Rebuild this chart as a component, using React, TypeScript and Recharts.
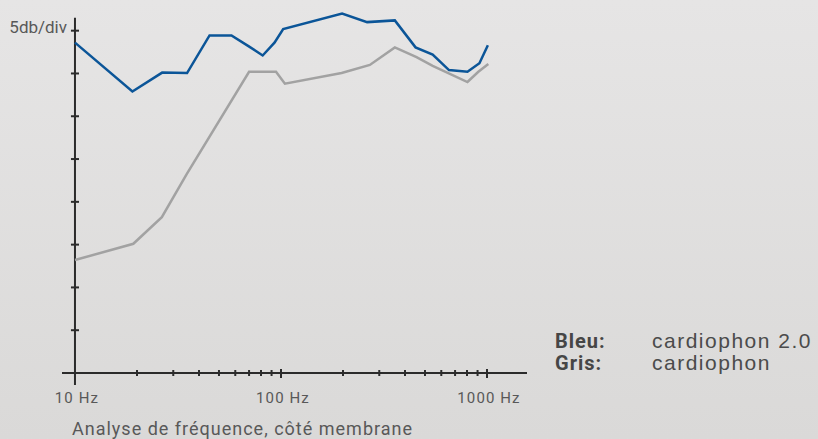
import { LineChart, Line, XAxis, YAxis, ReferenceLine } from 'recharts';

// fréquences (Hz) et niveaux (dB, 5 dB par division)
const blueFreq = [10, 19, 26.5, 35, 45, 57.5, 69.5, 81.5, 93, 102.5, 198, 262, 357, 450, 545, 654, 804, 919, 1010];
const blueDb = [38.6, 32.9, 35.1, 35.05, 39.45, 39.45, 38.2, 37.1, 38.6, 40.2, 42.0, 41.0, 41.2, 38.05, 37.2, 35.4, 35.2, 36.2, 38.3];

const grayFreq = [10, 19.2, 26.4, 34.8, 70, 94.6, 104.5, 197, 270, 357, 455, 545, 804, 908, 1015];
const grayDb = [13.2, 15.1, 18.2, 23.2, 35.2, 35.2, 33.8, 35.05, 36.0, 38.05, 36.9, 35.9, 34.0, 35.2, 36.1];

const freqTicks = [10, 20, 30, 40, 50, 60, 70, 80, 90, 100, 200, 300, 400, 500, 600, 700, 800, 900, 1000];
const freqLabels = [10, 100, 1000];
const dbTicks = [5, 10, 15, 20, 25, 30, 35, 40];

const legendNames = ['Bleu:', 'Gris:'];
const legendValues = ['cardiophon 2.0', 'cardiophon'];

const blueData = blueFreq.map((f, i) => ({ f, db: blueDb[i] }));
const grayData = grayFreq.map((f, i) => ({ f, db: grayDb[i] }));

const AXIS = '#2b2b2b';
const TEXT = '#585858';

const FreqTick = (props: any) => {
  const { x, y, payload } = props;
  const v = payload.value;
  const major = v === 100 || v === 1000;
  return (
    <g>
      {v !== 10 && (
        <line x1={x} x2={x} y1={y - (major ? 4 : 3)} y2={y + (major ? 5 : 3)} stroke={AXIS} strokeWidth={2} />
      )}
      {freqLabels.includes(v) && (
        <text x={x + 2} y={y + 30} textAnchor="middle" fill={TEXT} fontSize={15} fontFamily="Roboto" letterSpacing={1.1}>
          {v} Hz
        </text>
      )}
    </g>
  );
};

export default function App() {
  return (
    <div
      style={{
        position: 'absolute',
        left: 0,
        top: 0,
        width: 818,
        height: 439,
        background: 'linear-gradient(#e6e5e5, #dad9d8)',
        fontFamily: 'Roboto',
      }}
    >
      <LineChart width={818} height={439} margin={{ top: 5, right: 291, bottom: 36, left: 62 }}>
        <XAxis
          type="number"
          dataKey="f"
          scale="log"
          domain={[8.65, 1564]}
          allowDataOverflow
          ticks={freqTicks}
          interval={0}
          tick={<FreqTick />}
          tickLine={false}
          tickSize={0}
          tickMargin={0}
          height={30}
          axisLine={{ stroke: AXIS, strokeWidth: 2 }}
        />
        <YAxis hide type="number" domain={[0, 43]} allowDataOverflow />
        <ReferenceLine
          segment={[{ x: 10, y: -1.4 }, { x: 10, y: 41.5 }]}
          stroke={AXIS}
          strokeWidth={2}
          ifOverflow="visible"
        />
        {dbTicks.map((v) => (
          <ReferenceLine
            key={v}
            segment={[{ x: 10 / 1.046, y: v }, { x: 10 * 1.046, y: v }]}
            stroke={AXIS}
            strokeWidth={2}
            ifOverflow="visible"
          />
        ))}
        <Line data={grayData} dataKey="db" type="linear" stroke="#a2a2a2" strokeWidth={2.5} dot={false} isAnimationActive={false} />
        <Line data={blueData} dataKey="db" type="linear" stroke="#0b5598" strokeWidth={2.5} dot={false} isAnimationActive={false} />
      </LineChart>

      <svg width={818} height={439} style={{ position: 'absolute', left: 0, top: 0, pointerEvents: 'none' }}>
        <text x={67} y={33} textAnchor="end" fill={TEXT} fontSize={17}>5db/div</text>
        <text x={72} y={435} fill={TEXT} fontSize={18} letterSpacing={1}>
          Analyse de fréquence, côté membrane
        </text>
        {legendNames.map((name, i) => (
          <g key={name}>
            <text x={555} y={348 + i * 22} fill="#464646" fontSize={20} fontWeight="bold" letterSpacing={1}>
              {name}
            </text>
            <text x={652} y={348 + i * 22} fill="#4b4b4b" fontSize={21} fontFamily="Liberation Sans" letterSpacing={1.5}>
              {legendValues[i]}
            </text>
          </g>
        ))}
      </svg>
    </div>
  );
}
